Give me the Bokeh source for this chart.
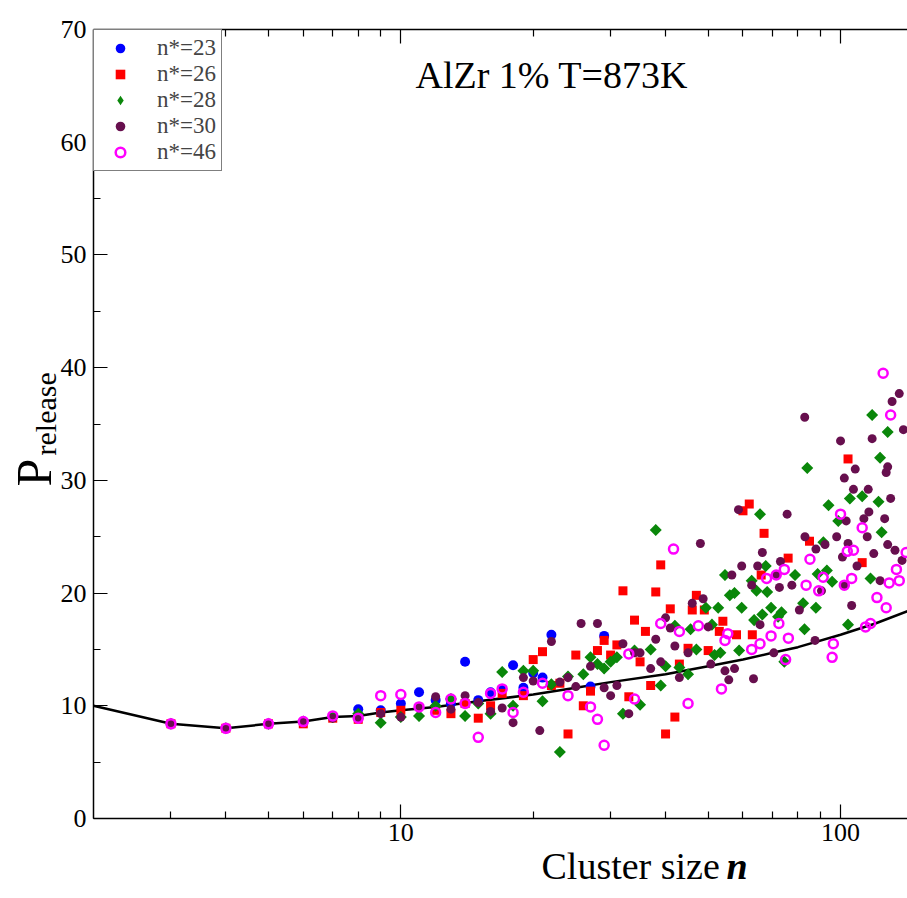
from math import pi
from bokeh.plotting import figure
from bokeh.layouts import row, column
from bokeh.models import (LogAxis, FixedTicker, SingleIntervalTicker, Label, Legend,
                          LegendItem, PrintfTickFormatter, CustomJSTickFormatter)
from bokeh.embed import file_html
from bokeh.resources import INLINE

# ---------------- data ----------------
line_n = [2, 3, 4, 5, 6, 7, 8, 9, 10, 12, 15, 20, 25, 30, 40, 50, 60, 70, 80, 100, 120, 142]
line_p = [10.0, 8.4, 8.0, 8.4, 8.6, 9.0, 9.1, 9.4, 9.6, 9.9, 10.4, 11.0, 11.6, 12.1, 12.8, 13.5,
          14.1, 14.7, 15.2, 16.3, 17.3, 18.4]

n23_n = [3, 4, 5, 6, 7, 8, 9, 10, 11, 12, 13, 14, 15, 16, 17, 18, 19, 20, 21, 22, 27, 29]
n23_p = [8.4, 8.0, 8.4, 8.6, 9.0, 9.7, 9.6, 10.2, 11.2, 10.5, 10.2, 13.9, 10.5, 11.2, 11.5, 13.6,
         11.6, 12.9, 12.5, 16.3, 11.7, 16.2]

n26_n = [3, 4, 5, 6, 7, 8, 9, 10, 12, 13, 14, 15, 16, 17, 19, 20, 21, 22, 23, 24, 25, 26, 27, 28,
         29, 30, 31, 32, 33, 34, 35, 36, 37, 38, 39, 40, 41, 42, 43, 45, 46, 47, 49, 50, 53, 54, 58,
         60, 62, 63, 66, 67, 76, 85, 104, 112]
n26_p = [8.4, 8.0, 8.4, 8.4, 8.9, 8.8, 9.4, 9.6, 9.6, 9.3, 10.2, 8.9, 10.0, 11.1, 10.9, 14.1, 14.8,
         11.8, 12.0, 7.5, 14.5, 10.0, 11.3, 14.9, 15.8, 14.5, 15.4, 20.2, 10.8, 17.6, 13.9, 16.6,
         11.8, 20.1, 22.5, 7.5, 18.6, 9.0, 13.7, 15.1, 18.5, 19.8, 18.5, 14.9, 16.6, 17.5, 16.3,
         27.3, 27.9, 16.3, 21.6, 25.3, 23.1, 24.6, 31.9, 22.7]

n28_n = [3, 4, 5, 6, 7, 8, 9, 10, 11, 12, 13, 14, 15, 16, 17, 18, 19, 20, 21, 22, 23, 24, 26, 27,
         28, 29, 30, 31, 32, 34, 35, 37, 38, 39, 40, 42, 43, 45, 45.6, 47, 49.4, 51, 51.7, 52.7,
         53.3, 54.6, 56, 57.4, 58.8, 59.6, 62.8, 63.6, 64.4, 65.6, 66.4, 67.6, 68.1, 69.5, 72.1,
         73.4, 74.5, 78.8, 82.2, 82.8, 84, 87.9, 88.7, 91.4, 93.1, 93.9, 95.7, 98.8, 104, 105,
         112, 117, 118, 122, 123, 124, 128]
n28_p = [8.4, 8.0, 8.4, 8.6, 9.0, 9.3, 8.5, 9.0, 9.1, 10.0, 10.6, 9.1, 10.2, 9.3, 13.0, 10.0, 13.1,
         13.1, 10.4, 11.9, 5.9, 12.6, 12.8, 14.3, 13.7, 13.3, 13.9, 14.3, 9.3, 14.9, 10.1, 15.0,
         25.6, 11.8, 13.5, 17.1, 13.4, 12.8, 16.8, 15.0, 18.7, 17.2, 14.5, 18.7, 14.7, 21.6, 19.8,
         20.0, 14.9, 18.7, 21.1, 17.6, 20.2, 27.0, 18.1, 22.4, 20.1, 18.7, 17.9, 18.3, 13.9, 21.6,
         19.1, 16.8, 31.1, 18.7, 21.7, 24.5, 22.0, 27.8, 21.0, 26.4, 17.2, 28.4, 28.6, 21.3, 35.8,
         28.1, 32.0, 25.4, 34.3]

n30_n = [3, 4, 5, 6, 7, 8, 9, 10, 11, 12, 13, 14, 15, 16, 17, 18, 19, 20, 20.7, 22, 23, 24, 25,
         25.7, 27, 28, 29, 30, 31, 32, 33, 34, 35, 37, 38, 39, 40, 41, 42, 43, 45, 46, 48, 48.7,
         50, 50.7, 54.6, 55.7, 56.6, 57.4, 58.6, 59.6, 62.8, 63.4, 64.8, 65.6, 66.4, 70.5, 71.4,
         72.6, 73, 75.6, 77.5, 80.6, 83, 82.9, 87.5, 87.9, 90.5, 92.2, 98, 100, 101, 102, 102,
         103, 104, 106, 107, 108, 109, 113, 115, 115.6, 116, 118, 119, 123, 126, 127, 128, 128,
         130, 131, 133, 136, 138, 139]
n30_p = [8.4, 8.0, 8.4, 8.6, 8.9, 8.9, 9.3, 9.0, 9.9, 10.8, 9.7, 10.9, 10.3, 9.5, 9.8, 8.5, 12.5,
         12.2, 7.8, 15.7, 12.1, 12.5, 11.7, 17.3, 13.5, 17.3, 11.6, 10.9, 11.8, 15.5, 9.3, 14.7,
         14.7, 13.3, 15.9, 13.9, 17.8, 16.9, 15.3, 12.5, 14.7, 19.1, 24.4, 19.5, 17.0, 13.7, 13.1,
         12.3, 21.6, 13.3, 27.4, 22.4, 20.7, 12.4, 22.4, 17.2, 23.6, 14.7, 21.6, 20.5, 22.8, 27.0,
         20.7, 18.5, 25.0, 35.6, 15.8, 23.9, 20.2, 24.3, 25.0, 33.5, 23.2, 30.2, 20.7, 26.4, 24.4,
         18.9, 29.2, 31.0, 22.4, 26.6, 25.0, 29.2, 27.2, 33.7, 23.5, 21.1, 26.6, 30.7, 31.2, 24.3,
         28.4, 37.0, 23.8, 37.7, 22.9, 34.5]

n46_n = [3, 4, 5, 6, 7, 8, 9, 10, 11, 12, 13, 14, 15, 16, 17, 18, 19, 21, 24, 27, 28, 29, 33, 34,
         39, 41.7, 43, 45, 47.5, 53.6, 54.6, 55.4, 62.8, 65.6, 67.9, 69.5, 71.4, 72.4, 74.5, 75,
         76.1, 83.5, 85.2, 89.2, 91.3, 95.7, 96.3, 100, 102, 103.6, 106, 107, 112, 114, 117, 121,
         125, 127, 129, 130, 134, 136, 141]
n46_p = [8.4, 8.0, 8.4, 8.6, 9.1, 8.9, 10.9, 11.0, 9.9, 9.4, 10.6, 10.2, 7.2, 11.1, 11.5, 9.4, 11.2,
         12.0, 10.9, 9.9, 8.8, 6.5, 14.6, 10.6, 17.3, 23.9, 16.6, 10.2, 17.1, 11.5, 15.8, 16.4,
         15.0, 15.5, 21.3, 16.2, 21.6, 17.3, 22.1, 14.1, 16.0, 20.7, 23.0, 20.2, 21.4, 14.3, 15.5,
         27.0, 20.7, 23.7, 21.3, 23.8, 25.8, 17.0, 17.3, 19.6, 39.5, 18.7, 20.9, 35.8, 22.1, 21.1,
         23.6]

legend_labels = ["n*=23", "n*=26", "n*=28", "n*=30", "n*=46"]
title_text = "AlZr 1% T=873K"
xlabel_text = "Cluster size"
xlabel_var = "n"
ylabel_main = "P"
ylabel_sub = "release"
x_major = [10, 100]
x_minor = [3, 4, 5, 6, 7, 8, 9, 20, 30, 40, 50, 60, 70, 80, 90]

# ---------------- layout sizes ----------------
SERIF = "Liberation Serif"
LEFT_W = 57          # horizontal space taken by the y-label strip
LEFT_OVER = 14       # extra width of the strip, hidden under the main figure
MAIN_H = 854         # height of the main figure
BOTTOM_H = 898 - MAIN_H
BOTTOM_OVER = 18     # extra height of the x-label strip, overlapping the main figure

p = figure(width=907 - LEFT_W, height=MAIN_H, x_axis_type="log", x_range=(2, 142),
           y_range=(0, 70), output_backend="svg", toolbar_location=None,
           min_border_left=91 - LEFT_W, min_border_right=0, min_border_top=29,
           min_border_bottom=36)
p.outline_line_color = None
p.xgrid.visible = False
p.ygrid.visible = False

xt = FixedTicker(ticks=x_major, minor_ticks=x_minor)
xa = p.xaxis[0]
xa.ticker = xt
xa.formatter = PrintfTickFormatter(format="%d")
ya = p.yaxis[0]
ya.ticker = SingleIntervalTicker(interval=10, num_minor_ticks=2)

top = LogAxis(ticker=FixedTicker(ticks=x_major, minor_ticks=x_minor),
              formatter=CustomJSTickFormatter(code="return ''"))
p.add_layout(top, "above")

for ax in [xa, ya, top]:
    ax.major_tick_in = 14
    ax.major_tick_out = 0
    ax.minor_tick_in = 7
    ax.minor_tick_out = 0
    ax.axis_line_color = "black"
    ax.axis_line_width = 1.5
    ax.major_tick_line_color = "black"
    ax.minor_tick_line_color = "black"
    ax.major_tick_line_width = 1.2
    ax.minor_tick_line_width = 1.2
    ax.major_label_text_font = SERIF
    ax.major_label_text_font_size = "26px"
    ax.major_label_text_color = "black"
top.major_label_text_font_size = "0px"
top.major_label_standoff = 0
xa.major_label_standoff = 5
ya.major_label_standoff = 7

# curve
p.line(line_n, line_p, line_color="black", line_width=2.5)

GREEN = "#0a870a"
r1 = p.scatter(n23_n, n23_p, marker="circle", size=10, fill_color="#0000ff", line_color=None)
r2 = p.scatter(n26_n, n26_p, marker="square", size=9, fill_color="#ff0000", line_color=None)
# narrow diamonds (hidden under the rotated squares) give the legend its diamond swatch
r3_leg = p.scatter(n28_n, n28_p, marker="diamond", size=11, fill_color=GREEN, line_color=None)
r3 = p.scatter(n28_n, n28_p, marker="square", angle=pi / 4, size=8.5, fill_color=GREEN,
               line_color=None)
r4 = p.scatter(n30_n, n30_p, marker="circle", size=9, fill_color="#670f4e", line_color=None)
r5 = p.scatter(n46_n, n46_p, marker="circle", size=9, fill_color=None, line_color="#ff00ff",
               line_width=2.5)

legend = Legend(items=[LegendItem(label=l, renderers=[r]) for l, r in
                       zip(legend_labels, [r1, r2, r3_leg, r4, r5])],
                location="top_left", margin=0, padding=5, spacing=0,
                glyph_width=42, glyph_height=24, label_height=24, label_standoff=16,
                label_text_font=SERIF, label_text_font_size="23px",
                border_line_color="black", border_line_width=1.5,
                background_fill_color="white", background_fill_alpha=1.0)
p.add_layout(legend)

# title inside plot (Label baseline lands ~0.37em below y, compensate)
p.add_layout(Label(x=322, y=744, x_units="screen", y_units="screen", text=title_text,
                   text_font=SERIF, text_font_size="38px", text_align="left",
                   text_baseline="alphabetic", text_color="black"))

# ---------------- y label strip ----------------
yl = figure(width=LEFT_W + LEFT_OVER, height=MAIN_H, x_range=(0, 1), y_range=(0, 1),
            output_backend="svg", toolbar_location=None, min_border=0,
            x_axis_location=None, y_axis_location=None, margin=(0, -LEFT_OVER, 0, 0))
yl.outline_line_color = None
yl.xgrid.visible = False
yl.ygrid.visible = False
yl.add_layout(Label(x=33, y=MAIN_H - 484 - 38, x_units="screen", y_units="screen",
                    text=ylabel_main, angle=pi / 2, text_font=SERIF, text_font_size="50px",
                    text_align="left", text_baseline="alphabetic", text_color="black"))
yl.add_layout(Label(x=45, y=MAIN_H - 453 - 38, x_units="screen", y_units="screen",
                    text=ylabel_sub, angle=pi / 2, text_font=SERIF, text_font_size="30px",
                    text_align="left", text_baseline="alphabetic", text_color="black"))

# ---------------- x label strip ----------------
xl = figure(width=907, height=BOTTOM_H + BOTTOM_OVER, x_range=(0, 1), y_range=(0, 1),
            output_backend="svg", toolbar_location=None, min_border=0,
            x_axis_location=None, y_axis_location=None, margin=(-BOTTOM_OVER, 0, 0, 0))
xl.outline_line_color = None
xl.xgrid.visible = False
xl.ygrid.visible = False
xl.background_fill_alpha = 0
xl.border_fill_alpha = 0
base = (898 - 880) + 15
xl.add_layout(Label(x=541, y=base, x_units="screen", y_units="screen", text=xlabel_text,
                    text_font=SERIF, text_font_size="38px", text_align="left",
                    text_baseline="alphabetic", text_color="black"))
xl.add_layout(Label(x=726, y=base, x_units="screen", y_units="screen", text=xlabel_var,
                    text_font=SERIF, text_font_size="38px", text_font_style="bold italic",
                    text_align="left", text_baseline="alphabetic", text_color="black"))

layout = column(row(yl, p, spacing=0), xl, spacing=0)
open("out.html", "w").write(file_html(layout, INLINE))
